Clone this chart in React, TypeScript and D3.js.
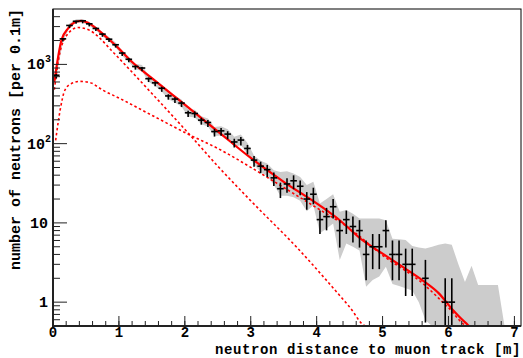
import React from 'react';
import * as d3 from 'd3';

// bins of 0.1 m, centres
const binCenters = [
  0.05, 0.15, 0.25, 0.35, 0.45, 0.55, 0.65, 0.75, 0.85, 0.95,
  1.05, 1.15, 1.25, 1.35, 1.45, 1.55, 1.65, 1.75, 1.85, 1.95,
  2.05, 2.15, 2.25, 2.35, 2.45, 2.55, 2.65, 2.75, 2.85, 2.95,
  3.05, 3.15, 3.25, 3.35, 3.45, 3.55, 3.65, 3.75, 3.85, 3.95,
  4.05, 4.15, 4.25, 4.35, 4.45, 4.55, 4.65, 4.75, 4.85, 4.95,
  5.05, 5.15, 5.25, 5.35, 5.45, 5.55, 5.65, 5.75, 5.85, 5.95,
  6.05, 6.15, 6.25, 6.35, 6.45, 6.55, 6.65, 6.75, 6.85,
];

// measured neutron counts per bin (0 = empty bin)
const counts = [
  730, 2100, 3100, 3500, 3550, 3250, 2840, 2410, 2080, 1770,
  1390, 1160, 940, 900, 660, 585, 500, 400, 365, 325,
  245, 240, 198, 185, 142, 145, 132, 105, 111, 87,
  62, 52, 47, 37, 27, 31, 34, 29, 20, 23,
  11, 12, 16, 8, 11, 9, 8, 4, 5, 5,
  8, 4, 4, 3, 3, 0, 2, 0, 0, 1,
  1, 0, 0, 0, 0, 0, 0, 0, 0,
];

// systematic band, upper and lower edge per bin
const bandHi = [
  790, 2250, 3280, 3700, 3750, 3430, 3000, 2560, 2210, 1890,
  1490, 1250, 1020, 980, 720, 640, 550, 440, 402, 360,
  272, 268, 222, 208, 162, 166, 152, 122, 130, 102,
  71, 61, 56, 46, 44, 45, 42, 38, 30, 33,
  17.6, 20, 23, 13.8, 14.5, 13, 11.4, 11.4, 11.4, 11.4,
  10.8, 6.3, 6.2, 6.1, 5.1, 4.9, 4.76, 5.0, 5.3, 5.5,
  5.3, 3.0, 1.8, 2.87, 1.64, 1.64, 1.64, 1.64, 0.3,
];
const bandLo = [
  680, 1960, 2950, 3330, 3370, 3080, 2690, 2270, 1950, 1650,
  1290, 1070, 870, 825, 605, 535, 455, 362, 330, 292,
  220, 214, 176, 164, 125, 127, 115, 91, 96, 74,
  54, 44, 39, 30, 22, 22, 21, 19, 14, 16.7,
  7.4, 8.5, 9.8, 3.4, 5.5, 5, 4.5, 1.56, 1.9, 2.1,
  2.8, 1.7, 1.6, 1.5, 1.4, 1.0, 0.59, 0.3, 0.3, 0.3,
  0.3, 0.3, 0.3, 0.3, 0.3, 0.3, 0.3, 0.3, 0.3,
];

// total fit (solid red)
const fitDist = [0.02, 0.13, 0.23, 0.33, 0.43, 0.53, 0.63, 0.75, 0.87, 1.0, 1.2, 1.5, 2.0, 2.5, 3.0, 3.5, 4.05, 4.35, 4.7, 5.0, 5.3, 5.6, 5.85, 6.07, 6.27, 6.32, 7.1];
const fitTotal = [600, 2050, 2850, 3400, 3550, 3350, 2950, 2450, 2000, 1580, 1070, 670, 310, 143, 66, 33, 16.5, 10.8, 6.0, 4.1, 2.8, 1.9, 1.3, 0.79, 0.54, 0.5, 0.5];

// fast component (dotted, high peak)
const compADist = [0.02, 0.1, 0.23, 0.38, 0.56, 0.71, 0.87, 0.99, 1.5, 2.08, 2.5, 2.99, 3.69, 4.5, 4.75, 7.1];
const compA = [480, 1350, 2450, 2920, 2680, 2150, 1550, 1220, 430, 128, 52, 19.4, 5.0, 0.87, 0.5, 0.5];

// slow component (dotted, low peak)
const compBDist = [0.04, 0.11, 0.18, 0.28, 0.41, 0.56, 0.76, 0.99, 1.5, 2.08, 2.5, 3.04, 3.5, 4.0, 4.5, 5.0, 5.6, 6.0, 6.3, 7.1];
const compB = [110, 270, 472, 575, 610, 590, 470, 380, 228, 128, 87, 48, 28, 15.5, 8.5, 3.9, 1.75, 0.85, 0.5, 0.5];

const xMajor = [0, 1, 2, 3, 4, 5, 6, 7];
const yMajor = [1, 10, 100, 1000];

const FONT = '"Liberation Mono", "DejaVu Sans Mono", monospace';

export default function App() {
  const width = 523;
  const height = 358;
  const left = 53, right = 521, top = 9, bottom = 326;
  const yMin = 0.5;

  const x = d3.scaleLinear().domain([0, 7.1]).range([left, right]);
  const y = d3.scaleLog().domain([yMin, 5000]).range([bottom, top]);
  const yc = (v: number) => y(Math.max(v, yMin));

  const band = binCenters.map((d, i) => ({ d, hi: bandHi[i], lo: bandLo[i] }));
  const area = d3.area<any>()
    .x(p => x(p.d))
    .y0(p => yc(p.lo))
    .y1(p => yc(p.hi));

  const line = d3.line<[number, number]>()
    .x(p => x(p[0]))
    .y(p => yc(p[1]))
    .curve(d3.curveMonotoneX);

  const fitPts = fitDist.map((d, i) => [d, fitTotal[i]] as [number, number]);
  const aPts = compADist.map((d, i) => [d, compA[i]] as [number, number]);
  const bPts = compBDist.map((d, i) => [d, compB[i]] as [number, number]);

  // minor ticks
  const xMinor: number[] = [];
  for (let t = 0; t <= 7.05; t += 0.2) xMinor.push(+t.toFixed(1));
  const yMinor: number[] = [];
  [0.1, 1, 10, 100, 1000].forEach(dec => {
    for (let k = 2; k <= 9; k++) {
      const v = dec * k;
      if (v >= yMin && v < 5000) yMinor.push(v);
    }
  });

  const points = binCenters
    .map((d, i) => ({ d, n: counts[i] }))
    .filter(p => p.n > 0);

  return (
    <svg width={width} height={height} style={{ position: 'absolute', left: 0, top: 0, background: '#fff' }}>
      <defs>
        <clipPath id="plotClip">
          <rect x={left} y={top} width={right - left} height={bottom - top} />
        </clipPath>
        <clipPath id="lineClip">
          <rect x={left} y={top} width={right - left} height={bottom - top + 3} />
        </clipPath>
      </defs>

      <path d={area(band) || ''} fill="#cccccc" stroke="none" clipPath="url(#plotClip)" />

      <g clipPath="url(#lineClip)" fill="none">
        <path d={line(bPts) || ''} stroke="#ff0000" strokeWidth={1.6} strokeDasharray="2.5,2.5" />
        <path d={line(aPts) || ''} stroke="#ff0000" strokeWidth={1.6} strokeDasharray="2.5,2.5" />
        <path d={line(fitPts) || ''} stroke="#ff0000" strokeWidth={2.2} />
      </g>

      <g stroke="#000" strokeWidth={1.6} clipPath="url(#plotClip)">
        {points.map(p => {
          const e = Math.sqrt(p.n);
          return (
            <g key={p.d}>
              <line x1={x(p.d - 0.05)} x2={x(p.d + 0.05)} y1={y(p.n)} y2={y(p.n)} />
              <line x1={x(p.d)} x2={x(p.d)} y1={yc(p.n - e) + 2} y2={yc(p.n + e)} />
            </g>
          );
        })}
      </g>

      {/* frame */}
      <rect x={left} y={top} width={right - left} height={bottom - top} fill="none" stroke="#000" strokeWidth={1} />
      <line x1={left} x2={left} y1={top} y2={bottom + 1} stroke="#222" strokeWidth={2} />
      <line x1={left - 1} x2={right} y1={bottom} y2={bottom} stroke="#222" strokeWidth={2} />

      {/* ticks */}
      <g stroke="#222" strokeWidth={1}>
        {xMinor.map(t => (
          <line key={'xm' + t} x1={x(t)} x2={x(t)} y1={bottom} y2={bottom - 5} />
        ))}
        {xMajor.map(t => (
          <line key={'xM' + t} x1={x(t)} x2={x(t)} y1={bottom} y2={bottom - 10} />
        ))}
        {yMinor.map(t => (
          <line key={'ym' + t} x1={left} x2={left + 7} y1={y(t)} y2={y(t)} />
        ))}
        {yMajor.map(t => (
          <line key={'yM' + t} x1={left} x2={left + 14} y1={y(t)} y2={y(t)} />
        ))}
      </g>

      <g fontFamily={FONT} fontWeight="bold" fill="#000">
        {xMajor.map(t => (
          <text key={'xl' + t} x={x(t)} y={337} fontSize={14} textAnchor="middle">{t}</text>
        ))}
        {yMajor.map(t => {
          const exp = Math.round(Math.log10(t));
          if (exp < 2) {
            return <text key={'yl' + t} x={48} y={y(t) + 5} fontSize={15} textAnchor="end">{t}</text>;
          }
          return (
            <text key={'yl' + t} x={51} y={y(t) + 5} fontSize={15} textAnchor="end">
              10<tspan fontSize={10} dy={-7}>{exp}</tspan>
            </text>
          );
        })}
        <text x={right} y={353.5} fontSize={14} letterSpacing={0.6} textAnchor="end">neutron distance to muon track [m]</text>
        <text transform={`translate(20,${top}) rotate(-90)`} fontSize={15} textAnchor="end">number of neutrons [per 0.1m]</text>
      </g>
    </svg>
  );
}
